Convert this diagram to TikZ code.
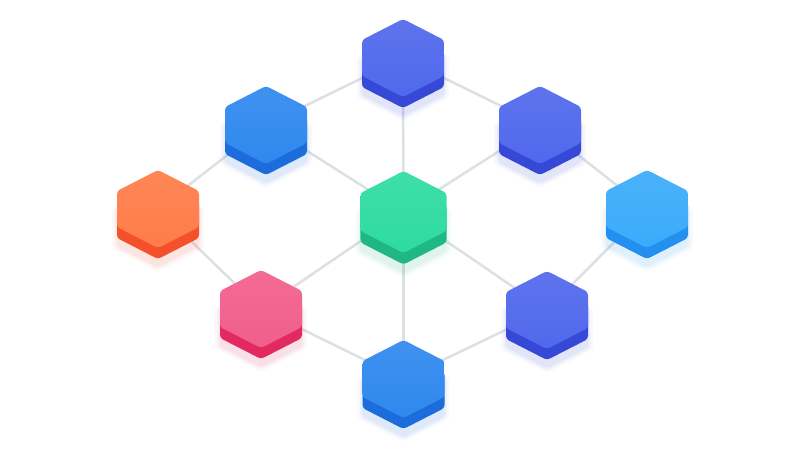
\documentclass[tikz,border=0pt]{standalone}
\usepackage{tikz}
\definecolor{linkgray}{HTML}{DCDFE4}
\definecolor{indigoA}{HTML}{5068EC}
\definecolor{indigoB}{HTML}{3649D6}
\definecolor{blueA}{HTML}{2F88EE}
\definecolor{blueB}{HTML}{1D6CDC}
\definecolor{skyA}{HTML}{3AABFA}
\definecolor{skyB}{HTML}{2390F0}
\definecolor{orangeA}{HTML}{FF7C48}
\definecolor{orangeB}{HTML}{F4502C}
\definecolor{greenA}{HTML}{2EDBA0}
\definecolor{greenB}{HTML}{20B786}
\definecolor{pinkA}{HTML}{F25E8C}
\definecolor{pinkB}{HTML}{E22A60}
\tikzset{
	link/.style={draw=linkgray,line width=1.4pt},
	hexpath/.style={rounded corners=1.8pt},
	pics/hexa/.style args={#1/#2}{code={
		\foreach \g/\o in {1.12/0.035,1.06/0.05,1.01/0.06}
			\fill[#2,opacity=\o,hexpath,yshift=-0.38cm,scale=\g](0,0.78)--(0.82,0.36)--(0.82,-0.36)--(0,-0.78)--(-0.82,-0.36)--(-0.82,0.36)--cycle;
		\fill[#2,hexpath,yshift=-0.22cm](0,0.78)--(0.82,0.36)--(0.82,-0.36)--(0,-0.78)--(-0.82,-0.36)--(-0.82,0.36)--cycle;
		\shade[top color=#1!92!white,bottom color=#1,hexpath](0,0.78)--(0.82,0.36)--(0.82,-0.36)--(0,-0.78)--(-0.82,-0.36)--(-0.82,0.36)--cycle;
	}}
}
\begin{document}
\begin{tikzpicture}
	\useasboundingbox[fill=white](0,0)rectangle(16,9);
	\coordinate(top)at(8.06,7.84);
	\coordinate(upleft)at(5.32,6.50);
	\coordinate(upright)at(10.80,6.50);
	\coordinate(left)at(3.16,4.82);
	\coordinate(mid)at(8.07,4.76);
	\coordinate(right)at(12.94,4.82);
	\coordinate(lowleft)at(5.22,2.82);
	\coordinate(lowright)at(10.94,2.80);
	\coordinate(bot)at(8.07,1.42);
	\draw[link](top)--(upleft);
	\draw[link](top)--(upright);
	\draw[link](top)--(mid);
	\draw[link](upleft)--(left);
	\draw[link](upleft)--(mid);
	\draw[link](upright)--(mid);
	\draw[link](upright)--(right);
	\draw[link](left)--(lowleft);
	\draw[link](mid)--(lowleft);
	\draw[link](mid)--(lowright);
	\draw[link](mid)--(bot);
	\draw[link](right)--(lowright);
	\draw[link](lowleft)--(bot);
	\draw[link](lowright)--(bot);
	\pic at(top){hexa=indigoA/indigoB};
	\pic at(upleft){hexa=blueA/blueB};
	\pic at(upright){hexa=indigoA/indigoB};
	\pic at(left){hexa=orangeA/orangeB};
	\pic[scale=1.05] at(mid){hexa=greenA/greenB};
	\pic at(right){hexa=skyA/skyB};
	\pic at(lowleft){hexa=pinkA/pinkB};
	\pic at(lowright){hexa=indigoA/indigoB};
	\pic at(bot){hexa=blueA/blueB};
\end{tikzpicture}
\end{document}
